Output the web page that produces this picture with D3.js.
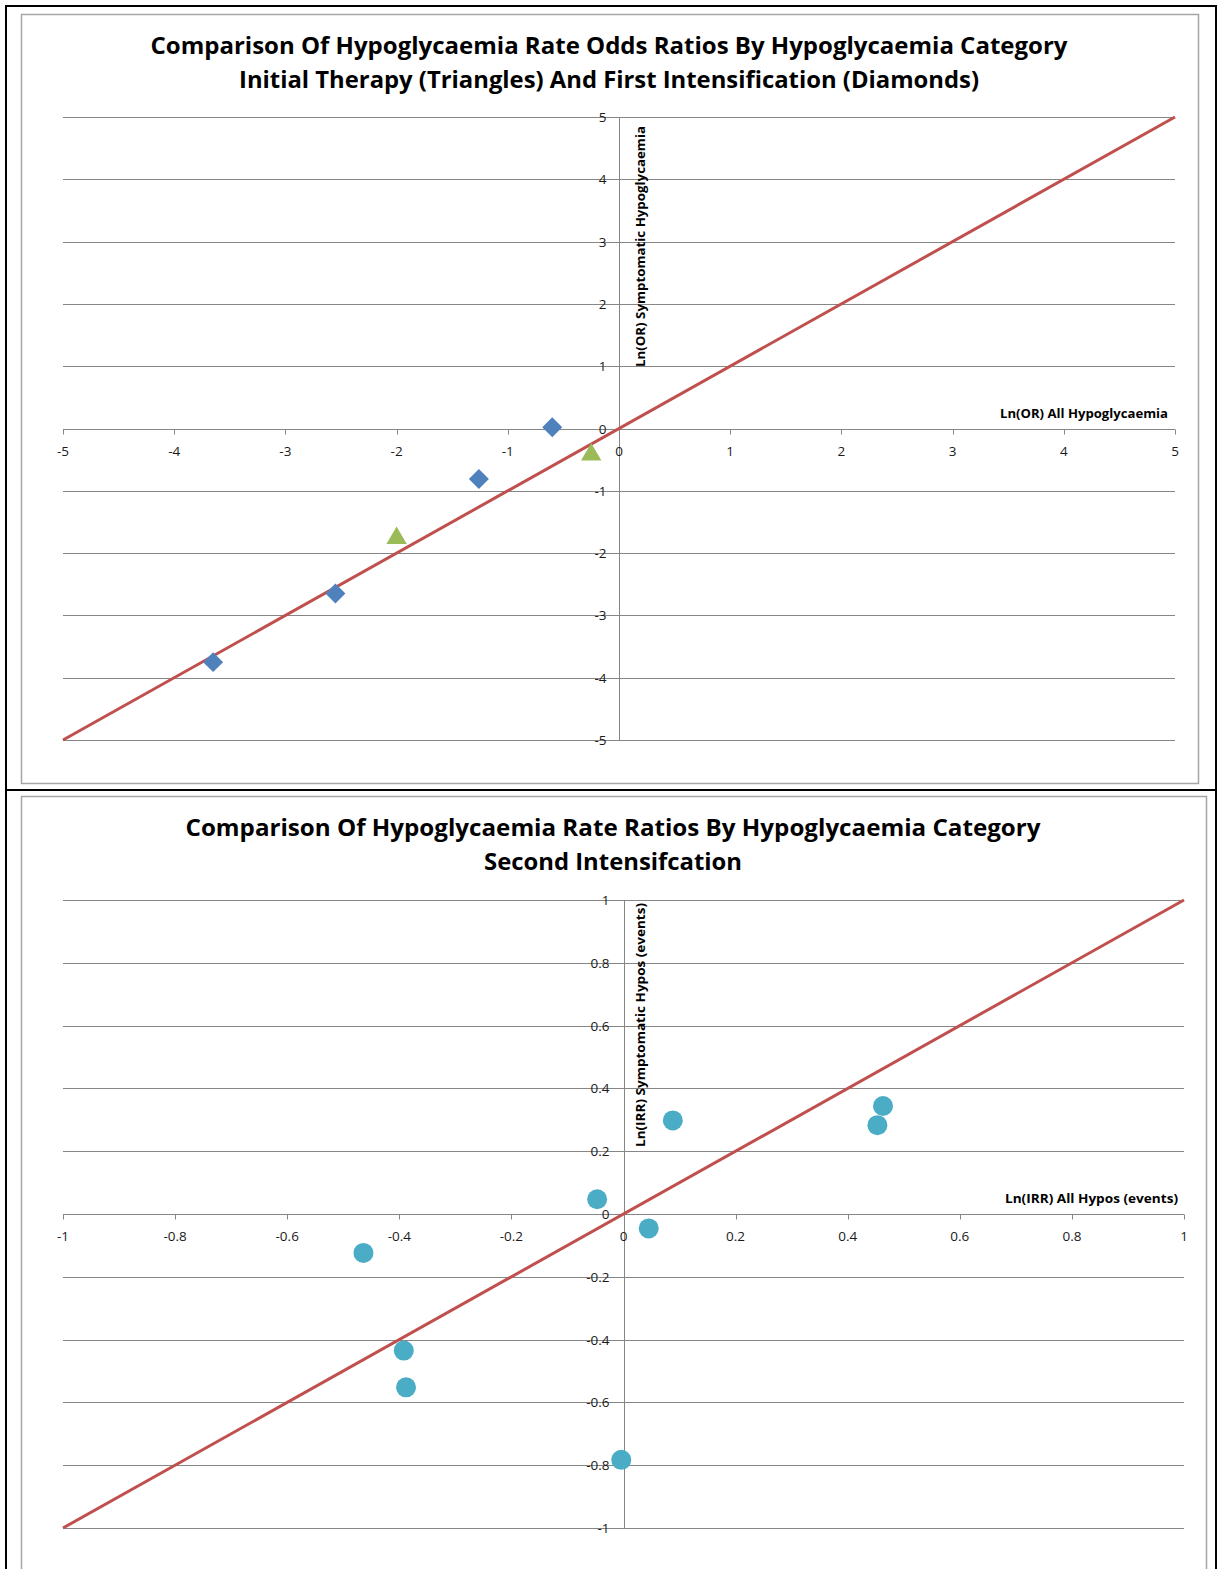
<!DOCTYPE html>
<html>
<head>
<meta charset="utf-8">
<script src="https://cdn.jsdelivr.net/npm/d3@7"></script>
<style>
  body { margin: 0; background: #fff; }
  svg { display: block; }
</style>
</head>
<body>
<div id="chart"></div>
<script>
// values
const topTicks = [-5, -4, -3, -2, -1, 0, 1, 2, 3, 4, 5];
const diamondX = [-3.65, -2.55, -1.26, -0.60];
const diamondY = [-3.75, -2.65, -0.81, 0.02];
const triangleX = [-2.0, -0.25];
const triangleY = [-1.76, -0.42];

const bottomTicks = [-1, -0.8, -0.6, -0.4, -0.2, 0, 0.2, 0.4, 0.6, 0.8, 1];
const circleX = [-0.464, -0.047, 0.045, 0.088, -0.392, -0.388, -0.004, 0.463, 0.453];
const circleY = [-0.124, 0.047, -0.046, 0.298, -0.435, -0.552, -0.783, 0.344, 0.283];

const topTitle = ["Comparison Of Hypoglycaemia Rate Odds Ratios By Hypoglycaemia Category",
                  "Initial Therapy (Triangles) And First Intensification (Diamonds)"];
const bottomTitle = ["Comparison Of Hypoglycaemia Rate Ratios By Hypoglycaemia Category",
                     "Second Intensifcation"];

const W = 1221, H = 1569;
const font = "'Open Sans', 'DejaVu Sans', sans-serif";
const gridColor = "#868686";

const svg = d3.select("#chart").append("svg")
    .attr("width", W).attr("height", H)
    .style("font-family", font);

// outer black page borders
svg.append("rect").attr("x", 6).attr("y", 6).attr("width", 1210).attr("height", 784)
    .attr("fill", "none").attr("stroke", "#000").attr("stroke-width", 2);
svg.append("rect").attr("x", 6).attr("y", 790).attr("width", 1210).attr("height", 900)
    .attr("fill", "none").attr("stroke", "#000").attr("stroke-width", 2);

// fitted text helper: squeeze/stretch to the width seen in the reference
function fitText(g, txt, attrs, len) {
  const t = g.append("text").text(txt);
  Object.entries(attrs).forEach(([k, v]) => t.attr(k, v));
  if (len) t.attr("textLength", len).attr("lengthAdjust", "spacingAndGlyphs");
  return t;
}

function panel(cfg) {
  const g = svg.append("g");

  g.append("rect")
      .attr("x", cfg.frame[0] + 0.5).attr("y", cfg.frame[1] + 0.5)
      .attr("width", cfg.frame[2]).attr("height", cfg.frame[3])
      .attr("fill", "#fff").attr("stroke", "#a6a6a6").attr("stroke-width", 1.5);

  cfg.title.forEach((line, i) => {
    fitText(g, line, {
      x: cfg.titleX, y: cfg.titleY[i], "text-anchor": "middle",
      "font-weight": "bold", "font-size": 23, fill: "#000"
    }, cfg.titleLen[i]);
  });

  const x = d3.scaleLinear().domain(cfg.domain).range([cfg.left, cfg.right]);
  const y = d3.scaleLinear().domain(cfg.domain).range([cfg.bottom, cfg.top]);

  // horizontal gridlines
  g.append("g").selectAll("line").data(cfg.ticks).join("line")
      .attr("x1", cfg.left).attr("x2", cfg.right)
      .attr("y1", d => Math.round(y(d)) + 0.5).attr("y2", d => Math.round(y(d)) + 0.5)
      .attr("stroke", gridColor).attr("stroke-width", 1);

  // vertical axis line at x = 0
  const x0 = Math.round(x(0)) + 0.5;
  g.append("line").attr("x1", x0).attr("x2", x0)
      .attr("y1", cfg.top).attr("y2", cfg.bottom)
      .attr("stroke", gridColor);

  const y0 = Math.round(y(0)) + 0.5;
  // x axis tick marks & labels
  const xa = g.append("g");
  xa.selectAll("line").data(cfg.ticks).join("line")
      .attr("x1", d => Math.round(x(d)) + 0.5).attr("x2", d => Math.round(x(d)) + 0.5)
      .attr("y1", y0).attr("y2", y0 + 5)
      .attr("stroke", gridColor);
  xa.selectAll("text").data(cfg.ticks).join("text")
      .attr("x", d => x(d)).attr("y", y0 + 26)
      .attr("text-anchor", "middle").attr("font-size", 13.5).attr("fill", "#1a1a1a")
      .text(d => cfg.fmt(d));

  // y axis tick marks & labels
  const ya = g.append("g");
  ya.selectAll("line").data(cfg.ticks).join("line")
      .attr("x1", x0 - 5).attr("x2", x0)
      .attr("y1", d => Math.round(y(d)) + 0.5).attr("y2", d => Math.round(y(d)) + 0.5)
      .attr("stroke", gridColor);
  ya.selectAll("text").data(cfg.ticks).join("text")
      .attr("x", x0 - cfg.ylabGap).attr("y", d => y(d) + 5)
      .attr("text-anchor", "end").attr("font-size", 13.5).attr("fill", "#1a1a1a")
      .text(d => cfg.fmt(d));

  // axis titles
  fitText(g, cfg.xTitle, {
    x: cfg.xTitlePos[0], y: cfg.xTitlePos[1], "text-anchor": "end",
    "font-weight": "bold", "font-size": 12, fill: "#000"
  }, cfg.xTitleLen);
  fitText(g, cfg.yTitle, {
    transform: `translate(${cfg.yTitlePos[0]},${cfg.yTitlePos[1]}) rotate(-90)`,
    "text-anchor": "end", "font-weight": "bold", "font-size": 12, fill: "#000"
  }, cfg.yTitleLen);

  // reference line y = x
  g.append("line")
      .attr("x1", x(cfg.domain[0])).attr("y1", y(cfg.domain[0]))
      .attr("x2", x(cfg.domain[1])).attr("y2", y(cfg.domain[1]))
      .attr("stroke", "#C0504D").attr("stroke-width", 3);

  return { g, x, y };
}

// top chart
const p1 = panel({
  frame: [21, 14, 1177, 769],
  title: topTitle, titleX: 609, titleY: [54, 88], titleLen: [917, 740],
  domain: [-5, 5], ticks: topTicks,
  left: 63, right: 1175, top: 117, bottom: 740,
  fmt: d => String(d), ylabGap: 13,
  xTitle: "Ln(OR) All Hypoglycaemia", xTitlePos: [1168, 418], xTitleLen: 168,
  yTitle: "Ln(OR) Symptomatic Hypoglycaemia", yTitlePos: [645, 126], yTitleLen: 241
});

const diamondData = diamondX.map((v, i) => [v, diamondY[i]]);
p1.g.append("g").selectAll("path").data(diamondData).join("path")
    .attr("transform", d => `translate(${p1.x(d[0])},${p1.y(d[1])}) rotate(45)`)
    .attr("d", d3.symbol(d3.symbolSquare, 200))
    .attr("fill", "#4F81BD");

const triangleData = triangleX.map((v, i) => [v, triangleY[i]]);
p1.g.append("g").selectAll("path").data(triangleData).join("path")
    .attr("transform", d => `translate(${p1.x(d[0])},${p1.y(d[1])})`)
    .attr("d", d3.symbol(d3.symbolTriangle, 180))
    .attr("fill", "#9BBB59");

// bottom chart
const p2 = panel({
  frame: [21, 796, 1185, 900],
  title: bottomTitle, titleX: 613, titleY: [836, 870], titleLen: [855, 258],
  domain: [-1, 1], ticks: bottomTicks,
  left: 63, right: 1184, top: 900, bottom: 1528,
  fmt: d => String(+d.toFixed(1)), ylabGap: 15,
  xTitle: "Ln(IRR) All Hypos (events)", xTitlePos: [1178, 1203], xTitleLen: 173,
  yTitle: "Ln(IRR) Symptomatic Hypos (events)", yTitlePos: [645, 903], yTitleLen: 244
});

const circleData = circleX.map((v, i) => [v, circleY[i]]);
p2.g.append("g").selectAll("circle").data(circleData).join("circle")
    .attr("cx", d => p2.x(d[0])).attr("cy", d => p2.y(d[1]))
    .attr("r", 10)
    .attr("fill", "#4BACC6");
</script>
</body>
</html>
